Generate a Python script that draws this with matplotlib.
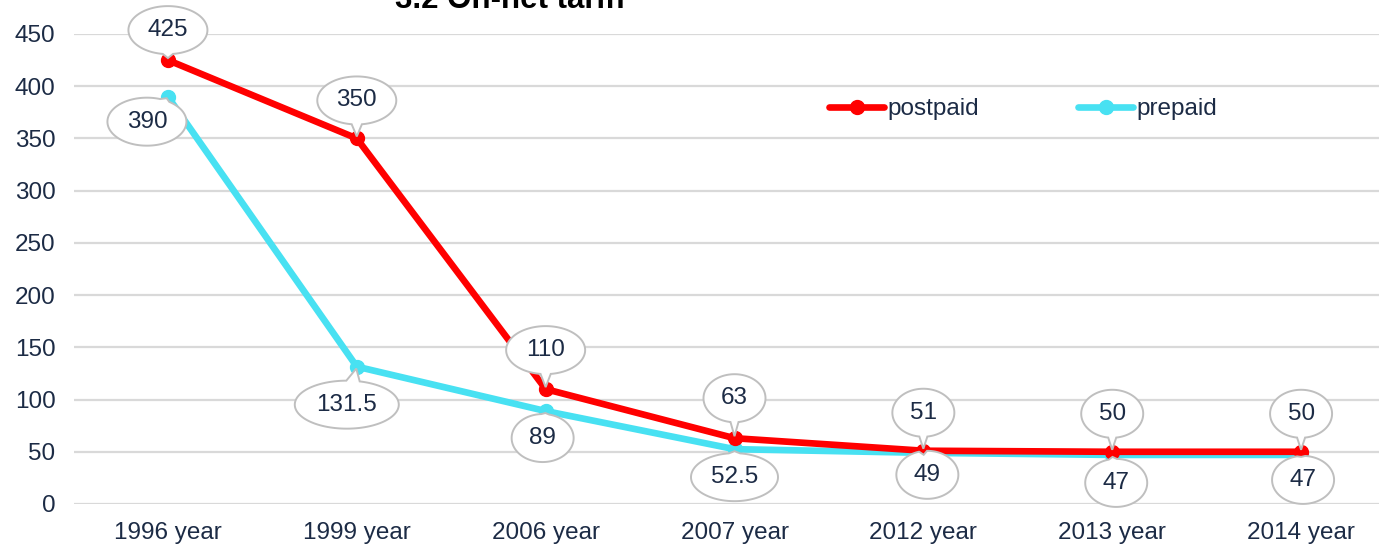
import numpy as np
import matplotlib
matplotlib.use("Agg")
import matplotlib.pyplot as plt
from matplotlib.patches import Polygon
from matplotlib.transforms import Affine2D, ScaledTranslation

plt.rcParams['font.family'] = ['Liberation Sans', 'DejaVu Sans']

categories = ["1996 year", "1999 year", "2006 year", "2007 year", "2012 year", "2013 year", "2014 year"]
postpaid = [425, 350, 110, 63, 51, 50, 50]
prepaid = [390, 131.5, 89, 52.5, 49, 47, 47]
post_labels = ["425", "350", "110", "63", "51", "50", "50"]
pre_labels = ["390", "131.5", "89", "52.5", "49", "47", "47"]
yticks = [0, 50, 100, 150, 200, 250, 300, 350, 400, 450]

# bubble offsets in pixels (dx, dy) relative to the data point (screen, y up)
post_off = [(0, 30), (0, 38), (0, 39), (0, 40), (0, 38), (0, 38), (0, 38)]
pre_off = [(-21, -25), (-10, -38), (-3, -27), (0, -28), (4, -22), (4, -28), (2, -25)]

RED = "#FF0000"
CYAN = "#48E1F2"
TXT = "#1C2B45"
GRID = "#D9D9D9"
FS = 17.5

W, H = 1379, 547
fig = plt.figure(figsize=(W / 100, H / 100), dpi=100)
ax = fig.add_axes([73.5 / W, 1 - 504 / H, (1395.5 - 73.5) / W, 470 / H])

x = np.arange(len(categories))
ax.set_xlim(-0.5, len(categories) - 0.5)
ax.set_ylim(0, 450)
ax.set_yticks(yticks)
ax.set_xticks(x)
ax.set_xticklabels(categories)
ax.yaxis.grid(True, color=GRID, linewidth=1.6)
ax.set_axisbelow(True)
for s in ax.spines.values():
    s.set_visible(False)
ax.tick_params(axis='both', length=0, labelsize=FS, colors=TXT)
ax.tick_params(axis='y', pad=13)
ax.tick_params(axis='x', pad=13)

ax.plot(x, prepaid, color=CYAN, lw=4.8, marker='o', ms=10, label='prepaid', zorder=3,
        solid_capstyle='round')
ax.plot(x, postpaid, color=RED, lw=4.8, marker='o', ms=10, label='postpaid', zorder=4,
        solid_capstyle='round')


def bubble(xd, yd, dx, dy, text):
    n_dig = sum(c.isdigit() for c in text)
    n_dot = text.count('.')
    w = 28 + 17 * n_dig + 8 * n_dot
    h = 48
    a, b = w / 2, h / 2
    tx, ty = -dx, -dy
    ang = np.arctan2(ty / b, tx / a)
    delta = 0.13
    ts = np.linspace(ang + delta, ang + 2 * np.pi - delta, 160)
    pts = [(a * np.cos(t), b * np.sin(t)) for t in ts]
    dist = np.hypot(tx, ty)
    f = max(dist - 2, 0) / dist
    pts.append((tx * f, ty * f))
    trans = Affine2D().translate(dx, dy) + ScaledTranslation(xd, yd, ax.transData)
    poly = Polygon(pts, closed=True, facecolor='white', edgecolor='#BFBFBF', lw=1.4,
                   transform=trans, zorder=6, clip_on=False)
    ax.add_patch(poly)
    ax.text(0, 0, text, transform=trans, ha='center', va='center', fontsize=FS,
            color=TXT, zorder=7)


for i in range(len(categories)):
    bubble(x[i], postpaid[i], post_off[i][0], post_off[i][1], post_labels[i])
    bubble(x[i], prepaid[i], pre_off[i][0], pre_off[i][1], pre_labels[i])

handles, labels = ax.get_legend_handles_labels()
leg = fig.legend(handles[::-1], labels[::-1], ncol=2, frameon=False, fontsize=FS,
                 loc='center', bbox_to_anchor=(1023 / W, 1 - 109 / H),
                 handlelength=2.26, handletextpad=0.12, columnspacing=4.1,
                 labelcolor=TXT)

fig.text(510 / W, 1 - 8 / H, "3.2 On-net tariff", ha='center', va='baseline',
         fontsize=22.5, fontweight='bold', color='black')

fig.savefig("out.png", dpi=100)
